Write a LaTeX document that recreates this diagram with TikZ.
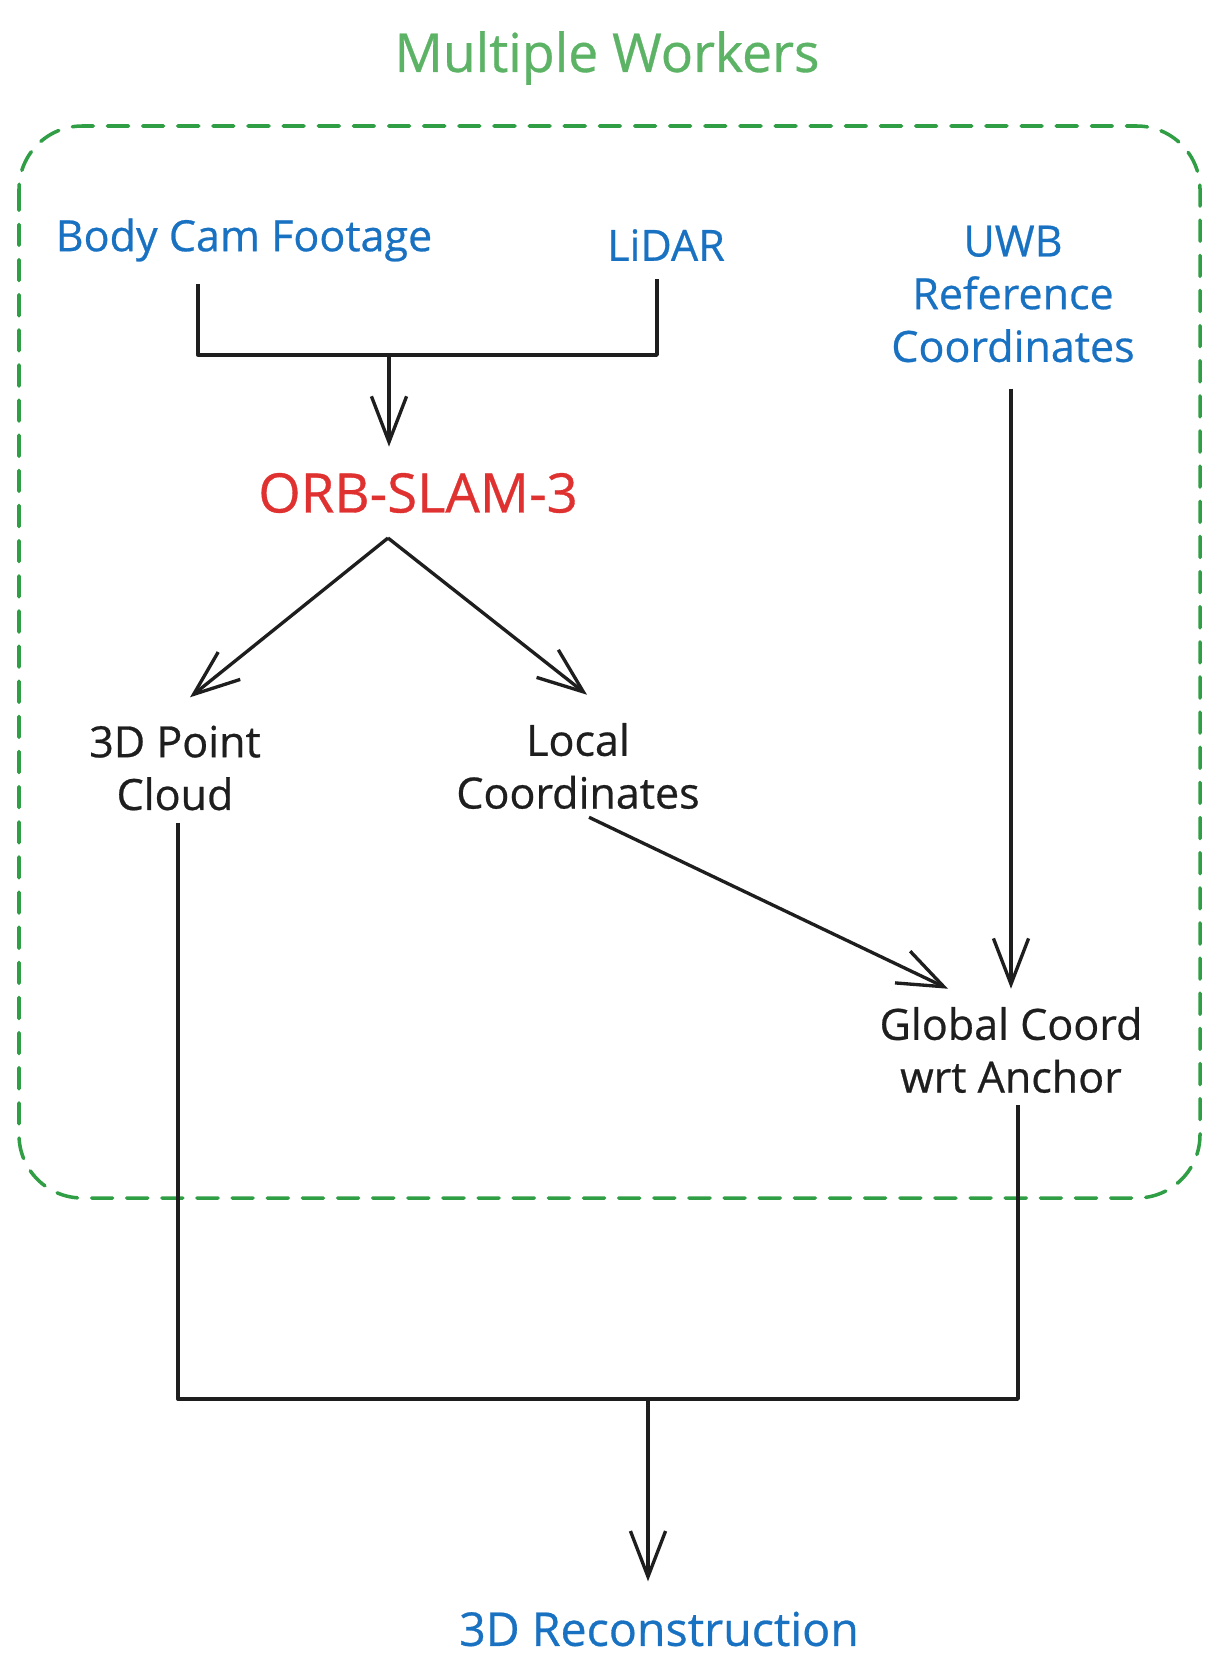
\documentclass[tikz,border=0pt]{standalone}
\usepackage{fontspec}
\setmainfont[FakeBold=0.6]{Open Sans}
\usetikzlibrary{arrows.meta, positioning, calc}
\definecolor{workerGreen}{HTML}{2F9E44}
\definecolor{titleGreen}{HTML}{5CB366}
\definecolor{sourceBlue}{HTML}{1971C2}
\definecolor{slamRed}{HTML}{E03131}
\definecolor{inkBlack}{HTML}{1E1E1E}
\tikzset{
    lbl_blue/.style={
        text=sourceBlue, font=\fontsize{24.5}{30}\selectfont,
        align=center, inner sep=0pt
    },
    lbl_black/.style={
        text=inkBlack, font=\fontsize{24.5}{30}\selectfont,
        align=center, inner sep=0pt
    },
    lbl_red/.style={
        text=slamRed, font=\fontsize{31}{34}\selectfont,
        align=center, inner sep=0pt
    },
    lbl_title/.style={
        text=titleGreen, font=\fontsize{30.5}{34}\selectfont,
        align=center, inner sep=0pt
    },
    worker_box/.style={
        draw=workerGreen, line width=2pt, rounded corners=36pt,
        dash pattern=on 12pt off 8pt, line cap=round
    },
    flow_line/.style={
        draw=inkBlack, line width=1.9pt, line join=round
    },
    flow_arrow/.style={
        flow_line, -{Straight Barb[length=26pt, width=20pt, line width=1.9pt]}
    }
}

\begin{document}
\begin{tikzpicture}[x=0.02cm, y=-0.02cm]
    \useasboundingbox (0,0) rectangle (1219,1679);

    \node[lbl_title] (workers) at (607,58) {Multiple Workers};
    \draw[worker_box] (19,126) rectangle (1200,1198);

    \node[lbl_blue] (bodycam) at (244,240) {Body Cam Footage};
    \node[lbl_blue] (lidar) at (666,245) {LiDAR};
    \node[lbl_blue] (uwb) at (1013,294) {UWB\\Reference\\Coordinates};

    \node[lbl_red] (orbslam) at (418,493) {ORB-SLAM-3};

    \node[lbl_black] (cloud) at (175,768) {3D Point\\Cloud};
    \node[lbl_black] (local) at (578,766) {Local\\Coordinates};
    \node[lbl_black] (global) at (1011,1050) {Global Coord\\wrt Anchor};

    \node[lbl_blue, font=\fontsize{26.5}{30}\selectfont] (recon) at (659,1629) {3D Reconstruction};

    % merge of the two sensor inputs
    \coordinate (camJoin) at (198,355);
    \coordinate (lidarJoin) at (657,355);
    \coordinate (slamIn) at (389,355);
    \coordinate (slamOut) at (388,538);
    \draw[flow_line] ($(camJoin |- bodycam.south)+(0,22)$) -- (camJoin) -- (lidarJoin) -- ($(lidarJoin |- lidar.south)+(0,18)$);
    \draw[flow_arrow] (slamIn) -- ($(slamIn |- orbslam.north)+(0,-26)$);

    % outputs of the slam stage
    \draw[flow_arrow] (slamOut) -- ($(cloud.north)+(15,-28)$);
    \draw[flow_arrow] (slamOut) -- ($(local.north)+(9,-28)$);
    \draw[flow_arrow] ($(local.south)+(11,8)$) -- ($(global.north)+(-63,-18)$);
    \draw[flow_arrow] ($(uwb.south)+(-2,26)$) -- ($(global.north)+(0,-18)$);

    % merge into the reconstruction
    \coordinate (cloudJoin) at (178,1399);
    \coordinate (globalJoin) at (1018,1399);
    \coordinate (reconIn) at (648,1399);
    \draw[flow_line] ($(cloudJoin |- cloud.south)+(0,12)$) -- (cloudJoin) -- (globalJoin) -- ($(globalJoin |- global.south)+(0,12)$);
    \draw[flow_arrow] (reconIn) -- ($(reconIn |- recon.north)+(0,-30)$);
\end{tikzpicture}
\end{document}
